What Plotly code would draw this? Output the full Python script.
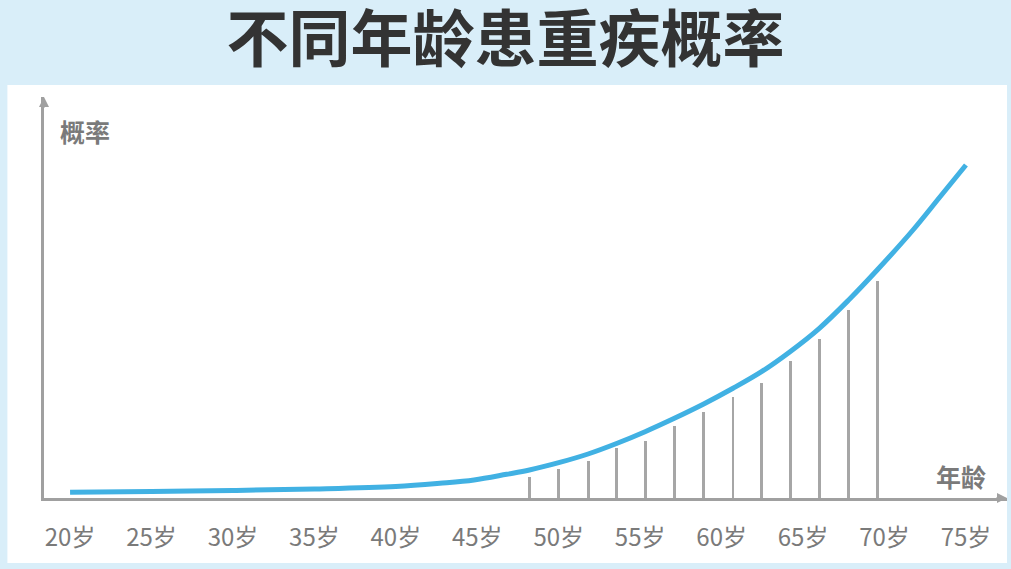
import plotly.graph_objects as go

# ---- data ----
title_text = "不同年龄患重疾概率"
y_label = "概率"
x_label = "年龄"

tick_ages = [20, 25, 30, 35, 40, 45, 50, 55, 60, 65, 70, 75]
tick_labels = [f"{a}岁" for a in tick_ages]

curve_ages = [20, 25, 30, 35, 40, 42.7, 44.8, 46.8, 48.2, 50.0, 51.8, 53.55,
              55.3, 57.1, 58.9, 60.7, 62.45, 64.2, 66.0, 67.8, 69.55, 71.75, 73.4, 75]
curve_vals = [5.7, 6.5, 7.5, 9.0, 11.5, 14.7, 18.0, 23.7, 28.0, 35.3, 44.0, 54.5,
              66.3, 79.7, 94.0, 109.7, 126.3, 146.3, 169.7, 198, 228, 268, 301, 333]

spike_ages = [48.2, 50.0, 51.8, 53.55, 55.3, 57.1, 58.9, 60.7, 62.45, 64.2, 66.0, 67.8, 69.55]
spike_vals = [21.3, 28.7, 37.5, 50.3, 57.5, 72.5, 86.3, 101.3, 115.3, 137.3, 159.3, 188, 217.3]

# ---- style ----
BG = "#d9eef9"
CURVE = "#41b1e3"
SPIKE = "#a6a6a6"
AXIS = "#a0a0a0"
FONT = "Noto Sans CJK SC"

fig = go.Figure()

fig.add_trace(go.Bar(
    x=spike_ages, y=spike_vals, width=0.18,
    marker=dict(color=SPIKE, line=dict(width=0)),
    hoverinfo="skip", showlegend=False,
))

fig.add_trace(go.Scatter(
    x=curve_ages, y=curve_vals, mode="lines",
    line=dict(color=CURVE, width=5, shape="spline", smoothing=1.0),
    showlegend=False,
))

# white panel behind the plot
fig.add_shape(type="rect", xref="paper", yref="paper",
              x0=-0.038, x1=1.0, y0=-0.162, y1=1.03,
              fillcolor="white", line=dict(width=0), layer="below")

# arrow heads on the axes
fig.add_annotation(x=1.0, y=0, xref="paper", yref="paper",
                   ax=-12, ay=0, axref="pixel", ayref="pixel",
                   showarrow=True, arrowhead=2, arrowsize=1, arrowwidth=2,
                   arrowcolor=AXIS, text="")
fig.add_annotation(x=0, y=1.0, xref="paper", yref="paper",
                   ax=0, ay=12, axref="pixel", ayref="pixel",
                   showarrow=True, arrowhead=2, arrowsize=1, arrowwidth=2,
                   arrowcolor=AXIS, text="")

# axis names
fig.add_annotation(x=0.0426, y=0.915, xref="paper", yref="paper",
                   xanchor="center", yanchor="middle",
                   text=f"<b>{y_label}</b>", showarrow=False,
                   font=dict(family=FONT, size=25, color="#7a7a7a"))
fig.add_annotation(x=0.952, y=0.055, xref="paper", yref="paper",
                   xanchor="center", yanchor="middle",
                   text=f"<b>{x_label}</b>", showarrow=False,
                   font=dict(family=FONT, size=25, color="#7a7a7a"))

fig.update_layout(
    width=1011, height=569,
    margin=dict(l=44, r=4, t=97, b=71),
    paper_bgcolor=BG, plot_bgcolor="white",
    title=dict(text=f"<b>{title_text}</b>", x=0.5, xanchor="center",
               y=0.93, yanchor="middle",
               font=dict(family=FONT, size=62, color="#333333")),
    bargap=0,
    xaxis=dict(range=[18.4, 77.52], tickvals=tick_ages, ticktext=tick_labels,
               showgrid=False, zeroline=False, showline=True,
               linecolor=AXIS, linewidth=2.5, ticks="",
               ticklabelstandoff=16,
               tickfont=dict(family=FONT, size=24, color="#7a7a7a")),
    yaxis=dict(range=[0, 401], showgrid=False, zeroline=False,
               showline=True, linecolor=AXIS, linewidth=2.5,
               showticklabels=False, ticks=""),
)

fig.write_html("out.html", config={"displayModeBar": False},
               post_script="document.body.style.margin='0';")
